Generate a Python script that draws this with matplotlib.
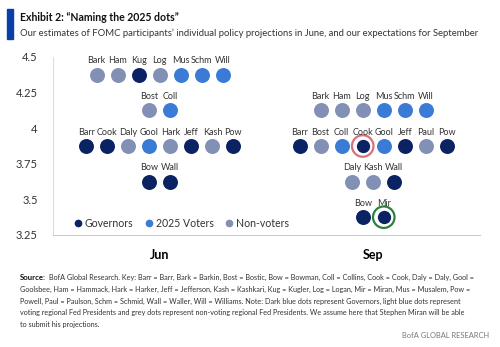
import matplotlib.pyplot as plt
from matplotlib.lines import Line2D

plt.rcParams['font.family'] = ['Lato', 'DejaVu Sans']

# dot plot data: (name, rate) for each meeting
jun_names = ['Bark', 'Ham', 'Kug', 'Log', 'Mus', 'Schm', 'Will',
             'Bost', 'Coll',
             'Barr', 'Cook', 'Daly', 'Gool', 'Hark', 'Jeff', 'Kash', 'Pow',
             'Bow', 'Wall']
jun_rates = [4.375] * 7 + [4.125] * 2 + [3.875] * 8 + [3.625] * 2

sep_names = ['Bark', 'Ham', 'Log', 'Mus', 'Schm', 'Will',
             'Barr', 'Bost', 'Coll', 'Cook', 'Gool', 'Jeff', 'Paul', 'Pow',
             'Daly', 'Kash', 'Wall',
             'Bow', 'Mir']
sep_rates = [4.125] * 6 + [3.875] * 8 + [3.625] * 3 + [3.375] * 2

meetings = ['Jun', 'Sep']
governors = ['Kug', 'Barr', 'Cook', 'Jeff', 'Pow', 'Bow', 'Wall', 'Mir']
voters = ['Mus', 'Schm', 'Will', 'Coll', 'Gool']
yticks = [3.25, 3.5, 3.75, 4, 4.25, 4.5]
ytick_labels = ['3.25', '3.5', '3.75', '4', '4.25', '4.5']
rings = {('Sep', 'Cook'): '#d9707a', ('Sep', 'Mir'): '#2f7f3e'}

c_gov = '#0b2263'
c_vote = '#3a7bd5'
c_non = '#8290b6'


def color_of(name):
    if name in governors:
        return c_gov
    if name in voters:
        return c_vote
    return c_non


fig = plt.figure(figsize=(5, 3.47), dpi=100)
ax = fig.add_axes([0.106, 0.3228, 0.854, 0.513])

step = 0.0986
for mi, (names, rates) in enumerate([(jun_names, jun_rates), (sep_names, sep_rates)]):
    for r in sorted(set(rates)):
        row = [n for n, v in zip(names, rates) if v == r]
        k = len(row)
        for i, n in enumerate(row):
            x = mi + (i - (k - 1) / 2) * step
            ring = rings.get((meetings[mi], n))
            if ring:
                ax.scatter(x, r, s=240, facecolor='none', edgecolor=ring,
                           linewidth=1.6, zorder=2)
                ax.scatter(x, r, s=116, color=color_of(n), edgecolor='white',
                           linewidth=1.2, zorder=3)
            else:
                ax.scatter(x, r, s=116, color=color_of(n), linewidth=0, zorder=3)
            ax.text(x, r + 0.098, n, ha='center', va='center', fontsize=6.5,
                    color='#333333')

ax.set_xlim(-0.5, 1.5)
ax.set_ylim(3.25, 4.5)
ax.set_xticks([0, 1])
ax.set_xticklabels(meetings, fontsize=9, fontweight='bold')
ax.set_yticks(yticks)
ax.set_yticklabels(ytick_labels, fontsize=8, color='#333333')
ax.tick_params(axis='both', length=0)
ax.tick_params(axis='y', pad=11)
ax.tick_params(axis='x', pad=10)
for s in ['top', 'right']:
    ax.spines[s].set_visible(False)
ax.spines['left'].set_color('#dddddd')
ax.spines['bottom'].set_color('#cccccc')

handles = [Line2D([], [], marker='o', linestyle='', color=c, markersize=4.5)
           for c in [c_gov, c_vote, c_non]]
ax.legend(handles, ['Governors', '2025 Voters', 'Non-voters'], ncol=3,
          frameon=False, loc='center left', bbox_to_anchor=(0.03, 0.067),
          fontsize=7.6, handlelength=0.6, handletextpad=0.3, columnspacing=1.2,
          labelcolor='#333333')

# header
fig.patches.append(plt.Rectangle((0.014, 0.888), 0.011, 0.087,
                                 transform=fig.transFigure, color='#0a3fa8'))
fig.text(0.04, 0.951, 'Exhibit 2: \u201cNaming the 2025 dots\u201d', fontsize=7.6,
         fontweight='bold', va='center', color='#111111')
fig.text(0.04, 0.905, 'Our estimates of FOMC participants\u2019 individual policy '
         'projections in June, and our expectations for September',
         fontsize=6.8, va='center', color='#333333')

# footer
src_lines = [
    'BofA Global Research. Key: Barr = Barr, Bark = Barkin, Bost = Bostic, Bow = Bowman, '
    'Coll = Collins, Cook = Cook, Daly = Daly, Gool =',
    'Goolsbee, Ham = Hammack, Hark = Harker, Jeff = Jefferson, Kash = Kashkari, Kug = Kugler, '
    'Log = Logan, Mir = Miran, Mus = Musalem, Pow =',
    'Powell, Paul = Paulson, Schm = Schmid, Wall = Waller, Will = Williams. Note: Dark blue dots '
    'represent Governors, light blue dots represent',
    'voting regional Fed Presidents and grey dots represent non-voting regional Fed Presidents. '
    'We assume here that Stephen Miran will be able',
    'to submit his projections.',
]
fig.text(0.04, 1 - 277 / 347, 'Source:', fontsize=5.6, fontweight='bold',
         va='center', color='#111111')
for i, line in enumerate(src_lines):
    x0 = 0.098 if i == 0 else 0.04
    fig.text(x0, 1 - (277 + 12 * i) / 347, line, fontsize=5.2, va='center',
             color='#333333')
fig.text(0.978, 1 - 336 / 347, 'BofA GLOBAL RESEARCH', fontsize=5.4, ha='right',
         va='center', color='#777777')

fig.savefig('out.png', dpi=100)
